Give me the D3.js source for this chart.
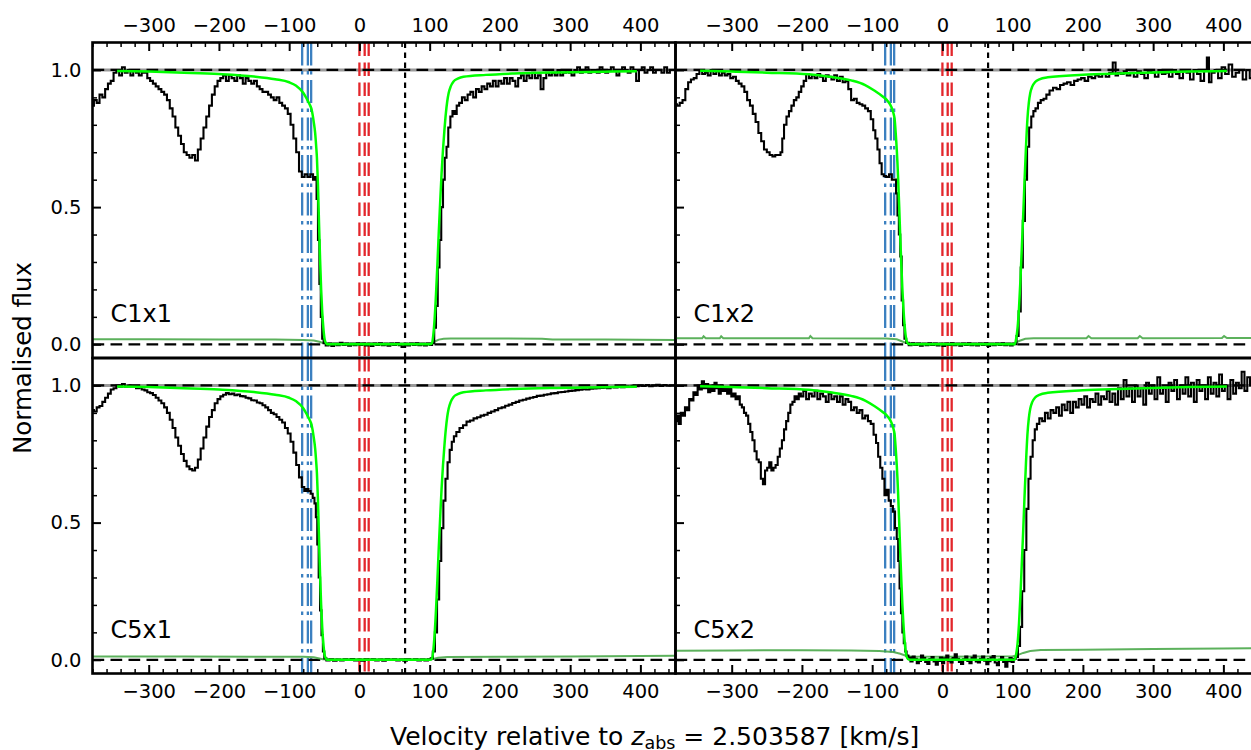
<!DOCTYPE html>
<html>
<head>
<meta charset="utf-8">
<script src="https://cdn.jsdelivr.net/npm/d3@7"></script>
<style>
  body { margin: 0; background: #fff; }
  svg { display: block; font-family: "DejaVu Sans", sans-serif; }
</style>
</head>
<body>
<svg id="chart" width="1251" height="750"></svg>
<script>
// observed flux, [velocity km/s, normalised flux]
const fluxC1x1 = [
  [-380,0.87],[-376,0.89],[-372,0.88],[-368,0.91],[-364,0.90],[-360,0.93],[-356,0.95],[-352,0.96],[-348,0.99],[-344,1.00],
  [-340,0.98],[-336,1.01],[-332,0.99],[-328,1.00],[-324,0.98],[-320,1.00],[-316,0.99],[-312,0.98],[-308,0.99],[-304,0.99],
  [-300,0.97],[-296,0.96],[-292,0.95],[-288,0.94],[-284,0.93],[-280,0.92],[-276,0.91],[-272,0.89],[-268,0.86],[-264,0.83],
  [-260,0.79],[-256,0.76],[-252,0.73],[-248,0.70],[-244,0.69],[-240,0.68],[-236,0.69],[-232,0.67],[-228,0.71],[-224,0.75],
  [-220,0.79],[-216,0.83],[-212,0.87],[-208,0.91],[-204,0.94],[-200,0.96],[-196,0.97],[-192,0.98],[-188,0.96],[-184,0.98],
  [-180,0.97],[-176,0.96],[-172,0.98],[-168,0.97],[-164,0.95],[-160,0.97],[-156,0.96],[-152,0.95],[-148,0.96],[-144,0.94],
  [-140,0.93],[-136,0.92],[-132,0.92],[-128,0.91],[-124,0.90],[-120,0.89],[-116,0.90],[-112,0.88],[-108,0.87],[-104,0.86],
  [-100,0.84],[-96,0.80],[-92,0.75],[-88,0.70],[-84,0.63],[-80,0.61],[-76,0.62],[-72,0.61],[-68,0.62],[-64,0.60],
  [-62,0.61],[-60,0.53],[-58,0.38],[-56,0.22],[-54,0.10],[-52,0.02],[-50,0.004],[-46,-0.004],[-42,0.003],[-38,-0.006],
  [-34,0.002],[-30,-0.003],[-26,0.005],[-22,-0.002],[-18,0.003],[-14,-0.005],[-10,0.002],[-6,-0.003],[-2,0.004],[2,-0.002],
  [6,0.003],[10,-0.004],[14,0.002],[18,-0.006],[22,0.003],[26,-0.002],[30,0.004],[34,-0.003],[38,0.002],[42,-0.005],
  [46,0.003],[50,-0.002],[54,0.004],[58,-0.003],[62,-0.010],[66,0.002],[70,-0.004],[74,0.003],[78,-0.002],[82,0.004],
  [86,-0.003],[90,0.002],[94,-0.004],[98,0.003],[102,-0.002],[105,0.004],[108,0.06],[110,0.14],[113,0.28],[115,0.38],
  [118,0.50],[120,0.60],[123,0.68],[125,0.72],[128,0.79],[131,0.83],[134,0.85],[137,0.84],[140,0.87],[144,0.88],
  [148,0.90],[152,0.89],[156,0.91],[160,0.92],[164,0.90],[168,0.93],[172,0.92],[176,0.94],[180,0.93],[184,0.95],
  [188,0.94],[192,0.96],[196,0.94],[200,0.96],[204,0.95],[208,0.97],[212,0.95],[216,0.97],[220,0.96],[224,0.94],
  [228,0.97],[232,0.98],[236,0.96],[240,0.98],[244,0.97],[248,0.99],[252,0.97],[256,0.98],[260,0.93],[264,0.97],
  [268,0.99],[272,0.98],[276,0.99],[280,0.98],[284,1.00],[288,0.98],[292,0.99],[296,1.00],[300,0.99],[304,0.98],
  [308,1.00],[312,1.01],[316,0.99],[320,1.00],[324,1.01],[328,0.99],[332,1.00],[336,1.00],[340,0.99],[344,1.01],
  [348,1.00],[352,0.99],[356,1.00],[360,1.01],[364,1.00],[368,0.98],[372,1.00],[376,1.01],[380,1.00],[384,0.99],
  [388,1.01],[392,1.00],[396,0.96],[400,1.00],[404,1.01],[408,0.99],[412,1.00],[416,1.01],[420,0.99],[424,1.00],
  [428,1.00],[432,0.99],[436,1.01],[440,0.99],[444,1.00],[450,1.00]
];

const fluxC1x2 = [
  [-380,0.875],[-376,0.87],[-372,0.88],[-368,0.89],[-364,0.93],[-360,0.955],[-356,0.965],[-352,0.97],[-348,0.985],[-344,1.0],
  [-340,0.985],[-336,0.99],[-332,0.98],[-328,1.0],[-324,0.985],[-320,0.995],[-316,0.98],[-312,0.99],[-308,0.98],[-304,0.985],
  [-300,0.97],[-296,0.975],[-292,0.96],[-288,0.95],[-284,0.94],[-280,0.92],[-276,0.89],[-272,0.87],[-268,0.84],[-264,0.81],
  [-260,0.77],[-256,0.74],[-252,0.71],[-248,0.70],[-244,0.69],[-240,0.685],[-236,0.69],[-232,0.69],[-229,0.70],[-227,0.75],
  [-224,0.80],[-220,0.83],[-217,0.85],[-213,0.87],[-210,0.89],[-206,0.90],[-203,0.92],[-199,0.94],[-196,0.96],[-192,0.985],
  [-188,0.97],[-184,0.98],[-180,0.97],[-176,0.985],[-172,0.975],[-168,0.96],[-164,0.98],[-160,0.975],[-156,0.965],[-152,0.98],
  [-148,0.96],[-144,0.975],[-140,0.955],[-136,0.96],[-132,0.93],[-128,0.89],[-124,0.895],[-120,0.88],[-116,0.875],[-112,0.87],
  [-108,0.86],[-104,0.85],[-100,0.82],[-97,0.78],[-94,0.75],[-91,0.71],[-88,0.66],[-85,0.62],[-82,0.613],[-78,0.61],
  [-74,0.62],[-70,0.60],[-67,0.60],[-65,0.55],[-63,0.47],[-61,0.40],[-59,0.32],[-57,0.16],[-55,0.07],[-53,0.02],
  [-50,0.005],[-46,-0.003],[-42,0.004],[-38,-0.002],[-34,0.003],[-30,-0.005],[-26,0.002],[-22,-0.003],[-18,0.004],[-14,-0.002],
  [-10,0.003],[-6,-0.004],[-2,0.002],[2,-0.006],[6,0.003],[10,-0.002],[14,0.004],[18,-0.003],[22,0.002],[26,-0.005],
  [30,0.003],[34,-0.002],[38,0.004],[42,-0.003],[46,0.002],[50,-0.004],[54,0.003],[58,-0.002],[62,0.004],[66,-0.006],
  [70,0.002],[74,-0.003],[78,0.003],[82,-0.002],[86,0.004],[90,-0.003],[94,0.002],[98,-0.004],[102,0.002],[104,0.0],
  [107,0.03],[110,0.12],[113,0.28],[116,0.45],[119,0.60],[122,0.72],[125,0.79],[128,0.83],[131,0.85],[134,0.86],
  [138,0.88],[142,0.89],[146,0.895],[150,0.91],[155,0.925],[160,0.935],[165,0.93],[170,0.945],[175,0.95],[180,0.955],
  [185,0.945],[190,0.96],[195,0.965],[200,0.97],[205,0.96],[210,0.975],[215,0.97],[220,0.98],[225,0.975],[230,0.985],
  [235,0.975],[240,0.99],[245,1.027],[248,0.98],[252,0.99],[256,0.985],[260,0.995],[265,0.98],[270,0.99],[275,0.975],
  [280,0.995],[285,0.985],[290,0.97],[295,0.995],[300,0.99],[305,0.975],[310,1.0],[315,0.985],[320,0.99],[325,0.975],
  [330,1.0],[335,0.985],[340,0.97],[345,1.0],[350,0.99],[355,0.965],[360,1.0],[365,0.985],[370,0.96],[375,1.0],
  [378,1.045],[381,0.955],[385,0.99],[390,1.0],[395,0.97],[400,1.01],[405,0.985],[410,1.02],[415,0.975],[420,0.99],
  [425,1.0],[430,0.965],[435,1.0],[440,0.97],[445,0.99],[450,0.98]
];

const fluxC5x1 = [
  [-380,0.91],[-376,0.905],[-372,0.92],[-368,0.925],[-364,0.94],[-360,0.955],[-356,0.97],[-352,0.985],[-348,0.99],[-344,1.0],
  [-340,0.995],[-336,1.005],[-332,0.995],[-328,1.0],[-324,0.995],[-320,0.998],[-316,0.99],[-312,0.992],[-308,0.985],[-304,0.982],
  [-300,0.975],[-296,0.972],[-292,0.965],[-288,0.955],[-284,0.945],[-280,0.935],[-276,0.92],[-272,0.90],[-268,0.875],[-264,0.845],
  [-260,0.81],[-256,0.78],[-252,0.75],[-248,0.725],[-244,0.705],[-240,0.695],[-236,0.69],[-232,0.70],[-228,0.73],[-224,0.77],
  [-220,0.81],[-216,0.85],[-212,0.885],[-208,0.91],[-204,0.935],[-200,0.95],[-196,0.96],[-192,0.966],[-188,0.972],[-184,0.968],
  [-180,0.97],[-176,0.964],[-172,0.967],[-168,0.961],[-164,0.96],[-160,0.955],[-156,0.953],[-152,0.946],[-148,0.945],[-144,0.938],
  [-140,0.935],[-136,0.928],[-132,0.92],[-128,0.91],[-124,0.90],[-120,0.895],[-116,0.885],[-112,0.875],[-108,0.865],[-104,0.845],
  [-100,0.825],[-96,0.795],[-92,0.755],[-88,0.71],[-84,0.665],[-80,0.63],[-77,0.615],[-74,0.622],[-71,0.615],[-68,0.605],
  [-65,0.59],[-63,0.57],[-61,0.52],[-59,0.42],[-57,0.30],[-55,0.18],[-53,0.09],[-51,0.03],[-49,0.005],[-45,-0.002],
  [-40,0.002],[-35,-0.003],[-30,0.001],[-25,-0.002],[-20,0.002],[-15,-0.001],[-10,0.003],[-5,-0.002],[0,0.001],[5,-0.003],
  [10,0.002],[15,-0.001],[20,0.002],[25,-0.002],[30,0.001],[35,-0.003],[40,0.002],[45,-0.001],[50,0.002],[55,-0.002],
  [60,0.001],[65,-0.003],[70,0.002],[75,-0.001],[80,0.002],[85,-0.002],[90,0.001],[95,-0.002],[100,0.002],[103,0.005],
  [106,0.03],[109,0.10],[112,0.22],[115,0.36],[118,0.48],[121,0.58],[124,0.66],[127,0.72],[130,0.765],[133,0.795],
  [136,0.815],[140,0.83],[145,0.845],[150,0.855],[155,0.868],[160,0.872],[165,0.88],[170,0.884],[175,0.89],[180,0.893],
  [185,0.90],[190,0.905],[195,0.91],[200,0.917],[205,0.92],[210,0.926],[215,0.93],[220,0.936],[225,0.94],[230,0.945],
  [235,0.948],[240,0.952],[245,0.955],[250,0.958],[255,0.962],[260,0.963],[265,0.966],[270,0.968],[275,0.971],[280,0.972],
  [285,0.975],[290,0.976],[295,0.978],[300,0.98],[305,0.981],[310,0.983],[315,0.984],[320,0.986],[325,0.985],[330,0.988],
  [335,0.989],[340,0.99],[345,0.991],[350,0.992],[355,0.99],[360,0.994],[365,0.993],[370,0.996],[375,0.994],[380,0.997],
  [385,0.996],[390,0.999],[395,0.997],[400,1.0],[405,0.998],[410,1.001],[415,0.997],[420,1.0],[425,1.002],[430,0.998],
  [435,1.001],[440,0.999],[445,1.0],[450,1.0]
];

const fluxC5x2 = [
  [-380,0.87],[-377,0.89],[-374,0.86],[-371,0.90],[-368,0.89],[-365,0.92],[-362,0.91],[-359,0.95],[-356,0.945],[-353,0.975],
  [-350,0.965],[-347,1.0],[-344,0.985],[-341,1.015],[-338,0.99],[-335,1.005],[-332,0.975],[-329,1.0],[-326,0.98],[-323,1.01],
  [-320,0.99],[-317,0.97],[-314,1.0],[-311,0.98],[-308,0.99],[-305,0.97],[-302,0.99],[-299,0.96],[-296,0.97],[-293,0.95],
  [-290,0.96],[-287,0.93],[-284,0.92],[-281,0.90],[-278,0.89],[-275,0.86],[-272,0.83],[-269,0.80],[-266,0.76],[-263,0.73],
  [-260,0.72],[-257,0.66],[-254,0.64],[-251,0.69],[-248,0.70],[-245,0.72],[-242,0.69],[-239,0.70],[-236,0.71],[-233,0.74],
  [-230,0.77],[-227,0.80],[-224,0.84],[-221,0.87],[-218,0.90],[-215,0.93],[-212,0.94],[-209,0.96],[-206,0.95],[-203,0.97],
  [-200,0.96],[-196,0.98],[-192,0.95],[-188,0.97],[-184,0.96],[-180,0.98],[-176,0.95],[-172,0.97],[-168,0.96],[-164,0.94],
  [-160,0.97],[-156,0.95],[-152,0.96],[-148,0.94],[-144,0.96],[-140,0.93],[-136,0.95],[-132,0.94],[-128,0.91],[-124,0.92],
  [-120,0.90],[-116,0.91],[-112,0.88],[-108,0.89],[-104,0.87],[-100,0.86],[-96,0.82],[-93,0.79],[-90,0.74],[-87,0.70],
  [-84,0.66],[-81,0.60],[-78,0.62],[-75,0.58],[-72,0.56],[-69,0.54],[-66,0.48],[-64,0.44],[-62,0.36],[-60,0.26],
  [-58,0.17],[-56,0.10],[-54,0.06],[-52,0.03],[-50,0.015],[-47,0.008],[-44,-0.006],[-41,0.012],[-38,0.004],[-35,-0.012],
  [-32,-0.004],[-29,0.015],[-26,0.006],[-23,-0.008],[-20,-0.015],[-17,0.003],[-14,0.01],[-11,-0.006],[-8,-0.018],[-5,-0.004],
  [-2,0.008],[1,-0.012],[4,0.005],[7,0.015],[10,-0.003],[13,-0.01],[16,0.006],[19,0.02],[22,0.004],[25,-0.008],
  [28,-0.015],[31,0.002],[34,0.012],[37,-0.004],[40,-0.012],[43,0.007],[46,0.015],[49,-0.006],[52,-0.01],[55,0.004],
  [58,0.012],[61,-0.003],[64,-0.016],[67,-0.005],[70,0.008],[73,0.014],[76,-0.01],[79,-0.02],[82,0.0],[85,0.01],
  [88,-0.008],[91,-0.025],[94,-0.005],[97,0.006],[100,-0.008],[103,0.004],[106,0.01],[109,0.05],[112,0.12],[115,0.25],
  [118,0.40],[121,0.55],[124,0.66],[127,0.74],[130,0.80],[133,0.84],[136,0.86],[140,0.88],[144,0.87],[148,0.90],
  [152,0.88],[156,0.91],[160,0.90],[164,0.92],[168,0.89],[172,0.93],[176,0.91],[180,0.94],[184,0.90],[188,0.94],
  [192,0.92],[196,0.95],[200,0.93],[204,0.96],[208,0.92],[212,0.95],[216,0.94],[220,0.97],[224,0.93],[228,0.96],
  [232,0.95],[236,0.98],[240,0.94],[244,0.97],[248,0.93],[252,0.99],[256,0.95],[260,1.02],[264,0.96],[268,0.99],
  [272,0.94],[276,1.0],[280,0.96],[284,0.99],[288,0.93],[292,1.01],[296,0.97],[300,1.0],[304,0.95],[308,1.03],
  [312,0.97],[316,0.99],[320,0.94],[324,1.01],[328,0.98],[332,1.02],[336,0.95],[340,1.0],[344,0.97],[348,1.03],
  [352,0.96],[356,1.01],[360,0.94],[364,1.02],[368,0.98],[372,1.0],[376,0.95],[380,1.03],[384,0.97],[388,1.01],
  [392,0.96],[396,1.04],[400,0.98],[404,1.0],[408,0.95],[412,1.02],[416,0.97],[420,1.01],[424,0.99],[428,1.05],
  [432,0.98],[436,1.03],[440,1.0],[444,1.04],[450,1.01]
];

// fitted model profiles (x1 and x2 settings)
const modelX1 = [
  [-345,0.996],[-300,0.994],[-250,0.99],[-200,0.985],[-150,0.976],[-120,0.966],[-100,0.955],[-90,0.942],[-80,0.917],[-75,0.895],
  [-71,0.875],[-68,0.855],[-65,0.81],[-63,0.77],[-61.5,0.72],[-60.5,0.68],[-59,0.58],[-57.5,0.44],[-56,0.31],[-54.5,0.2],
  [-53,0.12],[-51,0.05],[-49,0.012],[-46,0],[100,0],[103,0.003],[105,0.03],[107,0.09],[109,0.18],[111,0.29],
  [113,0.41],[115,0.52],[117,0.625],[119,0.71],[121,0.78],[123,0.84],[125,0.885],[127,0.915],[130,0.94],[134,0.958],
  [140,0.968],[148,0.975],[180,0.982],[220,0.987],[280,0.991],[360,0.994],[395,0.995]
];

const modelX2 = [
  [-345,0.997],[-300,0.994],[-250,0.99],[-190,0.984],[-160,0.975],[-130,0.962],[-110,0.945],[-97,0.925],[-85,0.903],[-78,0.887],
  [-73,0.867],[-70,0.845],[-68,0.82],[-66.5,0.77],[-65,0.71],[-64,0.66],[-63,0.6],[-61.5,0.5],[-60,0.39],[-58.5,0.29],
  [-57,0.2],[-55.5,0.13],[-54,0.075],[-52.5,0.035],[-51,0.012],[-49,0.003],[-46,0],[103,0],[105,0.02],[107,0.06],
  [109,0.13],[111,0.23],[113,0.35],[115,0.47],[117,0.6],[119,0.72],[121,0.82],[123,0.88],[125,0.915],[128,0.94],
  [132,0.956],[138,0.966],[150,0.973],[200,0.982],[250,0.987],[300,0.991],[350,0.994],[405,0.996]
];

// flux uncertainty
const errC1x1 = [
  [-380,0.018],[-300,0.018],[-200,0.017],[-120,0.017],[-80,0.016],[-65,0.014],[-57,0.009],[-52,0.005],[-46,0.004],[100,0.004],
  [104,0.006],[108,0.011],[113,0.017],[120,0.02],[130,0.021],[200,0.021],[260,0.02],[275,0.017],[350,0.017],[450,0.016]
];
const errC1x2 = [
  [-380,0.022],[-342,0.022],[-340,0.029],[-337,0.022],[-317,0.022],[-315,0.029],[-312,0.022],[-190,0.022],[-188,0.03],[-185,0.022],
  [-80,0.021],[-65,0.018],[-57,0.01],[-52,0.005],[-46,0.004],[100,0.004],[104,0.006],[110,0.013],[118,0.02],[130,0.022],
  [205,0.022],[208,0.03],[212,0.022],[278,0.022],[281,0.03],[285,0.022],[398,0.023],[401,0.03],[405,0.023],[450,0.023]
];
const errC5x1 = [
  [-380,0.012],[-250,0.012],[-150,0.011],[-80,0.011],[-65,0.009],[-57,0.005],[-52,0.002],[-46,0.001],[100,0.001],[105,0.003],
  [112,0.007],[125,0.01],[200,0.011],[300,0.012],[400,0.014],[450,0.015]
];
const errC5x2 = [
  [-380,0.033],[-300,0.034],[-200,0.035],[-130,0.034],[-90,0.032],[-70,0.028],[-60,0.022],[-52,0.015],[-45,0.012],[0,0.011],
  [50,0.012],[100,0.013],[106,0.016],[115,0.025],[125,0.032],[140,0.036],[200,0.037],[300,0.039],[400,0.041],[450,0.042]
];

// component velocities
const blueVel = [-81.5, -73.4, -68.7];
const redVel = [0, 7.5, 13.2];
const dottedVel = [65];

const majorX = [-300, -200, -100, 0, 100, 200, 300, 400];
const majorY = [0, 0.5, 1.0];

const panels = [
  { name: 'C1x1', col: 0, row: 0, flux: fluxC1x1, model: modelX1, err: errC1x1 },
  { name: 'C1x2', col: 1, row: 0, flux: fluxC1x2, model: modelX2, err: errC1x2 },
  { name: 'C5x1', col: 0, row: 1, flux: fluxC5x1, model: modelX1, err: errC5x1 },
  { name: 'C5x2', col: 1, row: 1, flux: fluxC5x2, model: modelX2, err: errC5x2 }
];

const svg = d3.select('#chart');
const marginLeft = 92.5, marginTop = 42.5, pw = 583, ph = 315.5;

const x = d3.scaleLinear().domain([-380, 450]).range([0, pw]);
const y = d3.scaleLinear().domain([-0.05, 1.1]).range([ph, 0]);

const minorX = d3.range(-380, 451, 20).filter(v => !majorX.includes(v));
const minorY = d3.range(0, 11).map(i => +(i / 10).toFixed(1)).filter(v => !majorY.includes(v));

const stepLine = d3.line().x(d => x(d[0])).y(d => y(d[1])).curve(d3.curveStep);
const smoothLine = d3.line().x(d => x(d[0])).y(d => y(d[1])).curve(d3.curveMonotoneX);
const straightLine = d3.line().x(d => x(d[0])).y(d => y(d[1]));

panels.forEach((p, i) => {
  const g = svg.append('g')
    .attr('transform', `translate(${marginLeft + p.col * pw},${marginTop + p.row * ph})`);

  g.append('clipPath').attr('id', `clip${i}`)
    .append('rect').attr('width', pw).attr('height', ph);
  const body = g.append('g').attr('clip-path', `url(#clip${i})`);

  // continuum guide
  body.append('line')
    .attr('x1', 0).attr('x2', pw).attr('y1', y(1)).attr('y2', y(1))
    .attr('stroke', '#9a9a9a').attr('stroke-width', 3);

  // component markers
  body.selectAll('.blue').data(blueVel).enter().append('line')
    .attr('x1', d => x(d)).attr('x2', d => x(d)).attr('y1', 0).attr('y2', ph)
    .attr('stroke', '#3b80c0').attr('stroke-width', 2.3)
    .attr('stroke-dasharray', '23,5.5,3.5,5.5');
  body.selectAll('.red').data(redVel).enter().append('line')
    .attr('x1', d => x(d)).attr('x2', d => x(d)).attr('y1', 0).attr('y2', ph)
    .attr('stroke', '#e3262b').attr('stroke-width', 2.3)
    .attr('stroke-dasharray', '13.5,6.5');
  body.selectAll('.dot').data(dottedVel).enter().append('line')
    .attr('x1', d => x(d)).attr('x2', d => x(d)).attr('y1', 0).attr('y2', ph)
    .attr('stroke', '#000').attr('stroke-width', 2.2)
    .attr('stroke-dasharray', '5.5,4.5');

  // flux levels
  [0, 1].forEach(level => {
    body.append('line')
      .attr('x1', 0).attr('x2', pw).attr('y1', y(level)).attr('y2', y(level))
      .attr('stroke', '#000').attr('stroke-width', 2.3)
      .attr('stroke-dasharray', '11.7,6.3');
  });

  body.append('path').datum(p.err)
    .attr('d', straightLine)
    .attr('fill', 'none').attr('stroke', '#3fa33f').attr('stroke-opacity', 0.85)
    .attr('stroke-width', 2);

  body.append('path').datum(p.flux)
    .attr('d', stepLine)
    .attr('fill', 'none').attr('stroke', '#000').attr('stroke-width', 2.1)
    .attr('stroke-linejoin', 'miter');

  body.append('path').datum(p.model)
    .attr('d', smoothLine)
    .attr('fill', 'none').attr('stroke', '#00ff00').attr('stroke-width', 2.5);

  // axes, ticks pointing inward
  const xAxisMajor = (p.row === 0 ? d3.axisTop(x) : d3.axisBottom(x))
    .tickValues(majorX).tickSizeInner(-8.5).tickSizeOuter(0).tickPadding(11)
    .tickFormat(d3.format('d'));
  const xAxisMinor = (p.row === 0 ? d3.axisTop(x) : d3.axisBottom(x))
    .tickValues(minorX).tickSizeInner(-4.5).tickSizeOuter(0).tickFormat('');
  const yAxisMajor = d3.axisLeft(y)
    .tickValues(majorY).tickSizeInner(-8.5).tickSizeOuter(0).tickPadding(11)
    .tickFormat(p.col === 0 ? d3.format('.1f') : '');
  const yAxisMinor = d3.axisLeft(y)
    .tickValues(minorY).tickSizeInner(-4.5).tickSizeOuter(0).tickFormat('');

  const xPos = p.row === 0 ? 0 : ph;
  [xAxisMajor, xAxisMinor].forEach((ax, k) => {
    g.append('g').attr('transform', `translate(0,${xPos})`).call(ax)
      .call(s => s.select('.domain').remove())
      .call(s => s.selectAll('line').attr('stroke-width', k === 0 ? 2 : 1.5))
      .call(s => s.selectAll('text').attr('font-size', 19.5).attr('fill', '#000')
        .attr('font-family', '"DejaVu Sans", sans-serif'));
  });
  [yAxisMajor, yAxisMinor].forEach((ax, k) => {
    g.append('g').call(ax)
      .call(s => s.select('.domain').remove())
      .call(s => s.selectAll('line').attr('stroke-width', k === 0 ? 2 : 1.5))
      .call(s => s.selectAll('text').attr('font-size', 19.5).attr('fill', '#000')
        .attr('font-family', '"DejaVu Sans", sans-serif'));
  });

  g.append('rect').attr('width', pw).attr('height', ph)
    .attr('fill', 'none').attr('stroke', '#000').attr('stroke-width', 2.6);

  g.append('text')
    .attr('x', 18).attr('y', ph - 36)
    .attr('font-size', 24).attr('fill', '#000')
    .text(p.name);
});

// axis titles
svg.append('text')
  .attr('transform', `translate(31,${marginTop + ph}) rotate(-90)`)
  .attr('text-anchor', 'middle')
  .attr('font-size', 24.5)
  .text('Normalised flux');

const xt = svg.append('text')
  .attr('x', 390).attr('y', 745)
  .attr('font-size', 25);
xt.append('tspan').text('Velocity relative to ');
xt.append('tspan').attr('font-style', 'italic').text('z');
xt.append('tspan').attr('font-size', 17.5).attr('dy', 4).text('abs');
xt.append('tspan').attr('dy', -4).text(' = 2.503587 [km/s]');
</script>
</body>
</html>
